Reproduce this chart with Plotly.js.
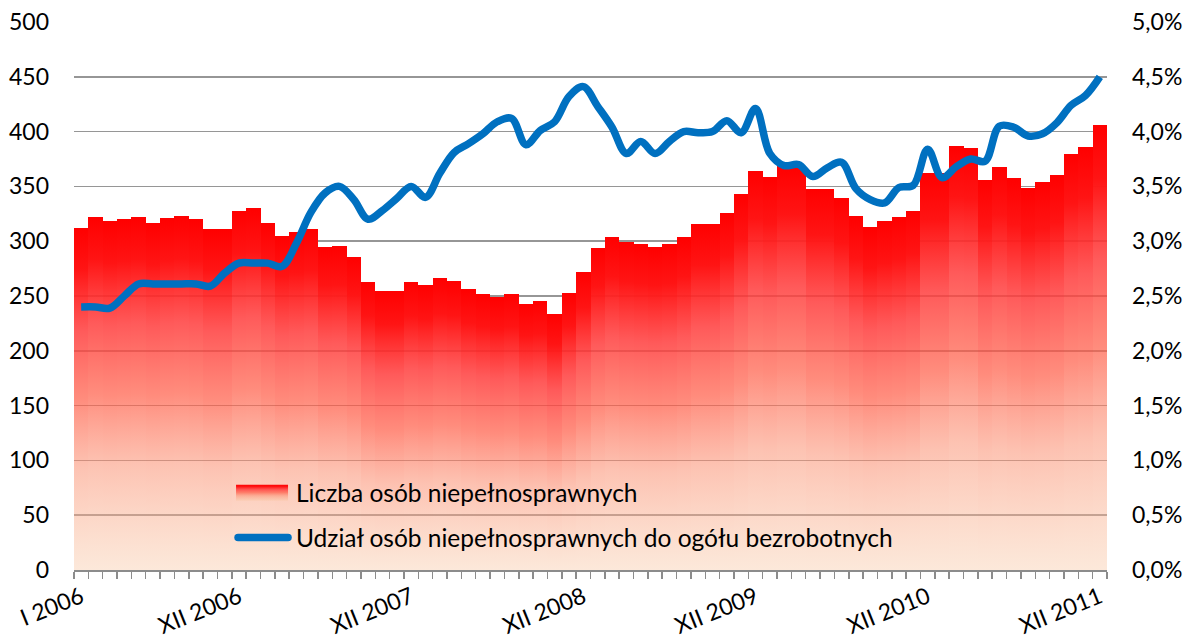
<!DOCTYPE html>
<html>
<head>
<meta charset="utf-8">
<script src="https://cdn.plot.ly/plotly-3.0.1.min.js"></script>
<style>
html,body{margin:0;padding:0;background:#fff;}
#chart{width:1187px;height:640px;}
</style>
</head>
<body>
<div id="chart"></div>
<script>
const monthNumerals = ['I','II','III','IV','V','VI','VII','VIII','IX','X','XI','XII'];
const years = [2006, 2007, 2008, 2009, 2010, 2011];
const shownLabels = ['I 2006','XII 2006','XII 2007','XII 2008','XII 2009','XII 2010','XII 2011'];

const disabledCount = [
  312,322,318,320,322,317,321,323,320,311,311,328,
  330,317,305,308,311,295,296,286,263,255,255,263,
  260,266,264,256,252,249,252,243,245,234,253,272,
  294,304,299,297,295,297,304,316,316,326,343,364,
  359,369,369,348,348,339,323,313,318,322,328,362,
  362,387,385,356,368,358,349,354,360,380,386,406
];
const disabledShare = [
  2.40,2.40,2.39,2.50,2.61,2.61,2.61,2.61,2.61,2.59,2.71,2.80,
  2.80,2.80,2.77,2.98,3.26,3.44,3.50,3.38,3.20,3.28,3.39,3.50,
  3.40,3.62,3.81,3.89,3.98,4.09,4.12,3.88,4.01,4.09,4.32,4.41,
  4.23,4.04,3.80,3.91,3.80,3.91,4.00,3.99,4.00,4.10,3.99,4.21,
  3.80,3.69,3.70,3.59,3.67,3.72,3.48,3.38,3.35,3.49,3.51,3.84,
  3.58,3.68,3.75,3.73,4.05,4.04,3.96,3.98,4.08,4.24,4.33,4.50
];

const categories = [];
years.forEach(y => monthNumerals.forEach(m => categories.push(m + ' ' + y)));
const tickText = categories.map(c => shownLabels.includes(c) ? c : '');

const FONT = 'Lato, "Open Sans", sans-serif';

const data = [
  {
    type: 'bar',
    name: 'Liczba osób niepełnosprawnych',
    x: categories,
    y: disabledCount,
    marker: {color: '#ff0000', line: {width: 0}},
    legendgroup: 'a',
    yaxis: 'y'
  },
  {
    type: 'scatter',
    mode: 'lines',
    name: 'Udział osób niepełnosprawnych do ogółu bezrobotnych',
    x: categories,
    y: disabledShare,
    line: {color: '#0070c0', width: 7.5, shape: 'spline', smoothing: 1},
    legendgroup: 'b',
    yaxis: 'y2'
  }
];

const layout = {
  width: 1187,
  height: 640,
  margin: {l: 74, r: 80, t: 22, b: 70, pad: 0},
  paper_bgcolor: '#ffffff',
  plot_bgcolor: '#ffffff',
  separators: ', ',
  font: {family: FONT, size: 23, color: '#000000'},
  bargap: 0,
  showlegend: true,
  legend: {
    x: 0.1375, xanchor: 'left',
    y: 0.1, yanchor: 'middle',
    bgcolor: 'rgba(0,0,0,0)',
    borderwidth: 0,
    font: {family: FONT, size: 24.5, color: '#000000'},
    tracegroupgap: 10,
    itemwidth: 70
  },
  xaxis: {
    type: 'category',
    tickmode: 'array',
    tickvals: categories,
    ticktext: tickText,
    tickson: 'boundaries',
    ticks: 'outside',
    ticklen: 7,
    tickwidth: 1.5,
    tickcolor: '#8c8c8c',
    tickangle: -22,
    ticklabelstandoff: 3,
    showline: true,
    linecolor: '#8c8c8c',
    linewidth: 2,
    showgrid: false,
    zeroline: false,
    automargin: false,
    tickfont: {family: FONT, size: 23, color: '#000000'}
  },
  yaxis: {
    range: [0, 500],
    tickmode: 'linear',
    tick0: 0,
    dtick: 50,
    showgrid: true,
    gridcolor: '#969696',
    gridwidth: 1.5,
    zeroline: false,
    showline: false,
    ticks: '',
    ticklabelstandoff: 24,
    automargin: false,
    tickfont: {family: FONT, size: 23, color: '#000000'}
  },
  yaxis2: {
    overlaying: 'y',
    side: 'right',
    range: [0, 5],
    tickmode: 'linear',
    tick0: 0,
    dtick: 0.5,
    tickformat: '.1f',
    ticksuffix: '%',
    showgrid: false,
    zeroline: false,
    showline: false,
    ticks: '',
    ticklabelstandoff: 24,
    automargin: false,
    tickfont: {family: FONT, size: 23, color: '#000000'}
  }
};

Plotly.newPlot('chart', data, layout, {staticPlot: true, displayModeBar: false}).then(gd => {
  const ns = 'http://www.w3.org/2000/svg';
  const svg = gd.querySelector('.main-svg');
  let defs = svg.querySelector('defs');
  if (!defs) { defs = document.createElementNS(ns, 'defs'); svg.insertBefore(defs, svg.firstChild); }
  const grad = document.createElementNS(ns, 'linearGradient');
  grad.setAttribute('id', 'barGrad');
  grad.setAttribute('x1', '0'); grad.setAttribute('y1', '0');
  grad.setAttribute('x2', '0'); grad.setAttribute('y2', '1');
  [
    ['0', '#ff0000', 1],
    ['0.12', '#ff1414', 1],
    ['0.3', '#ff3d3d', 0.85],
    ['0.5', '#ff5b45', 0.7],
    ['0.7', '#fb9173', 0.55],
    ['1', '#f8c6a2', 0.4]
  ].forEach(([o, c, a]) => {
    const s = document.createElementNS(ns, 'stop');
    s.setAttribute('offset', o);
    s.setAttribute('stop-color', c);
    s.setAttribute('stop-opacity', a);
    grad.appendChild(s);
  });
  defs.appendChild(grad);
  gd.querySelectorAll('.barlayer .point path').forEach(p => { p.style.fill = 'url(#barGrad)'; });

  const traces = gd.querySelectorAll('.legend .traces');
  traces.forEach((t, i) => {
    const txt = t.querySelector('text.legendtext');
    const tx = parseFloat(txt.getAttribute('x')) || 80;
    if (i === 0) {
      t.querySelectorAll('.legendpoints path, path.legendbar').forEach(bar => {
        bar.setAttribute('transform', '');
        bar.setAttribute('d', `M${tx - 60},-8h52v16h-52Z`);
        bar.style.fill = 'url(#barGrad)';
        bar.style.stroke = 'none';
      });
    } else {
      const ln = t.querySelector('.legendlines path');
      if (ln) {
        ln.setAttribute('transform', '');
        ln.setAttribute('d', `M${tx - 58},0h50`);
        ln.style.strokeWidth = '7.5px';
        ln.style.strokeLinecap = 'round';
      }
    }
  });
});
</script>
</body>
</html>
